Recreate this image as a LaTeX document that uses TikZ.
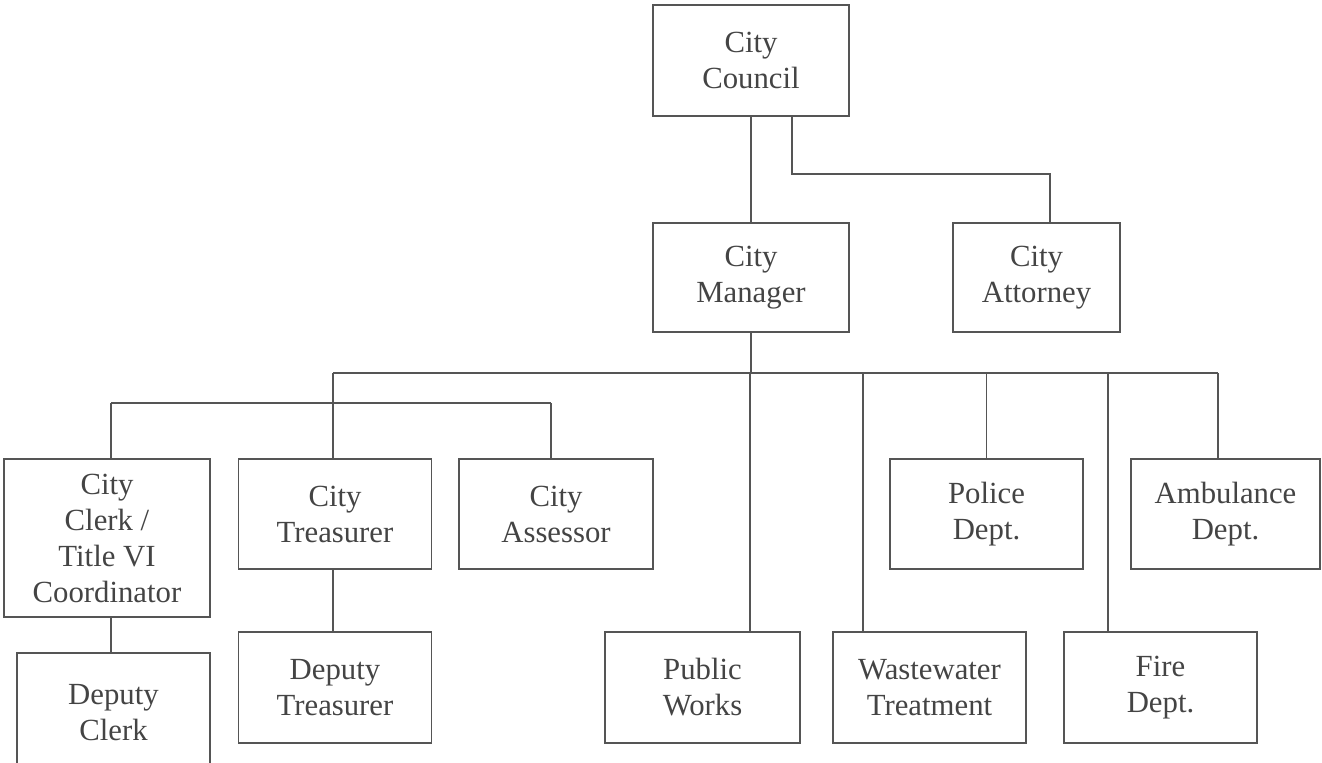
\documentclass[tikz,border=0pt]{standalone}
\usepackage{fontspec}
\setmainfont{Liberation Serif}
\usepackage{tikz}
\usetikzlibrary{positioning, calc}

\definecolor{inkgray}{HTML}{444444}
\definecolor{linegray}{HTML}{555555}

\begin{document}
\begin{tikzpicture}[
    x=0.02cm, y=-0.02cm,
    unit/.style={draw=linegray, line width=1.1pt, align=center, inner sep=2pt,
        text=inkgray, font=\fontsize{17.5}{20.5}\selectfont},
    link/.style={draw=linegray, line width=0.9pt}
]
\useasboundingbox (0,0) rectangle (1322,762);

% top
\node[unit, minimum width=3.92cm, minimum height=2.22cm] (council) at (751,60.5) {City\\Council};
\node[unit, minimum width=3.92cm, minimum height=2.18cm] (manager) at (751,277.5) {City\\Manager};
\node[unit, minimum width=3.34cm, minimum height=2.18cm] (attorney) at (1036.5,277.5) {City\\Attorney};

% second row
\node[unit, minimum width=4.12cm, minimum height=3.16cm] (clerk) at (107,538) {City\\Clerk /\\Title VI\\Coordinator};
\node[unit, minimum width=3.86cm, minimum height=2.2cm] (treasurer) at (335,514) {City\\Treasurer};
\node[unit, minimum width=3.88cm, minimum height=2.2cm] (assessor) at (556,514) {City\\Assessor};
\node[unit, minimum width=3.86cm, minimum height=2.2cm] (police) at (986.5,514) {Police\\Dept.};
\node[unit, minimum width=3.78cm, minimum height=2.2cm] (ambulance) at (1225.5,514) {Ambulance\\Dept.};

% bottom row
\node[unit, minimum width=3.86cm, minimum height=2.4cm] (depclerk) at (113.5,713) {Deputy\\Clerk};
\node[unit, minimum width=3.86cm, minimum height=2.22cm] (deptreas) at (335,687.5) {Deputy\\Treasurer};
\node[unit, minimum width=3.9cm, minimum height=2.22cm] (pworks) at (702.5,687.5) {Public\\Works};
\node[unit, minimum width=3.86cm, minimum height=2.22cm] (wastewater) at (929.5,687.5) {Wastewater\\Treatment};
\node[unit, minimum width=3.86cm, minimum height=2.22cm] (fire) at (1160.5,687.5) {Fire\\Dept.};

% drop points
\coordinate (bus) at (751,373);
\coordinate (subbus) at (333,403);
\coordinate (attyTop) at ($(attorney.north)+(13.5,0)$);
\coordinate (treasTop) at ($(treasurer.north)+(-2,0)$);
\coordinate (clerkTop) at ($(clerk.north)+(4,0)$);
\coordinate (assessTop) at ($(assessor.north)+(-5,0)$);
\coordinate (pwTop) at ($(pworks.north)+(47.5,0)$);
\coordinate (wwTop) at ($(wastewater.north)+(-66.5,0)$);
\coordinate (fireTop) at ($(fire.north)+(-52.5,0)$);
\coordinate (ambTop) at ($(ambulance.north)+(-7.5,0)$);

% council links
\draw[link] (council.south) -- (manager.north);
\draw[link] ($(council.south)+(41,0)$) -- ++(0,57) -| (attyTop);

% main bus
\draw[link] (manager.south) -- (bus);
\draw[link] (bus -| treasTop) -- (bus -| ambTop);
\draw[link] (bus -| treasTop) -- (treasTop);
\draw[link] (subbus -| clerkTop) -- (subbus -| assessTop);
\draw[link] (subbus -| clerkTop) -- (clerkTop);
\draw[link] (subbus -| assessTop) -- (assessTop);
\draw[link] (bus -| pwTop) -- (pwTop);
\draw[link] (bus -| wwTop) -- (wwTop);
\draw[link] (bus -| police.north) -- (police.north);
\draw[link] (bus -| fireTop) -- (fireTop);
\draw[link] (bus -| ambTop) -- (ambTop);

% deputies
\draw[link] (treasurer.south -| treasTop) -- (deptreas.north -| treasTop);
\draw[link] (clerk.south -| clerkTop) -- (depclerk.north -| clerkTop);

\end{tikzpicture}
\end{document}
